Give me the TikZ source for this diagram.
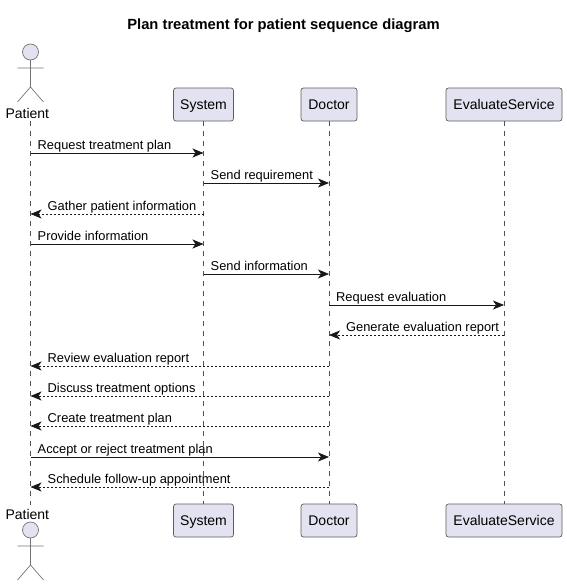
\documentclass[tikz,border=0pt]{standalone}
\usepackage{fontspec}
\setmainfont{Liberation Sans}
\usetikzlibrary{arrows.meta, positioning}
\definecolor{partfill}{HTML}{E2E2F0}
\definecolor{ink}{HTML}{181818}
\begin{document}
\begin{tikzpicture}[x=1pt, y=-1pt,
    part/.style={draw=ink!70, line width=0.7pt, fill=partfill, rounded corners=2.5pt, minimum height=33pt, inner sep=0, text height=11pt, text depth=1pt, font=\fontsize{14}{16}\selectfont},
    actorname/.style={inner sep=0, anchor=base, font=\fontsize{14}{16}\selectfont},
    stick/.style={draw=ink!60, line width=0.7pt},
    life/.style={draw=ink!75, line width=0.5pt, dash pattern=on 5pt off 5pt},
    go/.style={draw=ink, line width=0.75pt, -{Stealth[length=11pt, width=9pt, inset=3pt]}},
    back/.style={go, dash pattern=on 2pt off 2pt},
    msglabel/.style={inner sep=0, anchor=base west, text=black, font=\fontsize{12.85}{14}\selectfont}]
      \useasboundingbox (0,0) rectangle (567,586);
      \node[inner sep=0, anchor=base, font=\bfseries\fontsize{14.75}{16}\selectfont] (title) at (283.5,30) {Plan treatment for patient sequence diagram};

      \node[actorname] (patientname) at (27.3,118) {Patient};
      \node[actorname] (patientname2) at (27.3,519) {Patient};
      \coordinate (patient) at (30.5,120.5);
      \coordinate (patient2) at (30.5,505);
      \node[part, minimum width=60pt] (system) at (203.5,104.5) {System};
      \node[part, minimum width=60pt] (system2) at (203.5,520.5) {System};
      \node[part, minimum width=56pt] (doctor) at (329,104.5) {Doctor};
      \node[part, minimum width=56pt] (doctor2) at (329,520.5) {Doctor};
      \node[part, minimum width=116pt] (evaluate) at (504,104.5) {EvaluateService};
      \node[part, minimum width=116pt] (evaluate2) at (504,520.5) {EvaluateService};

      \foreach \n in {patient, system, doctor, evaluate}
      \draw[life] (\n) -- (\n2);

      % actor figures
      \foreach \h in {52, 530} {
      \draw[stick, fill=partfill] (30.5,\h) circle (8);
      \draw[stick] (30.5,\h+8) -- (30.5,\h+35) (17.5,\h+16) -- (43.5,\h+16)
        (17.5,\h+50) -- (30.5,\h+35) -- (43.5,\h+50);
      }

      % y / left / right / arrow / label offset / text
      \foreach \y/\l/\r/\k/\dx/\t [count=\i] in {
        153/patient/system/go/7/Request treatment plan,
        183/system/doctor/go/7/Send requirement,
        214/patient/system/back/17/Gather patient information,
        244/patient/system/go/7/Provide information,
        274/system/doctor/go/7/Send information,
        305/doctor/evaluate/go/7/Request evaluation,
        335/doctor/evaluate/back/17/Generate evaluation report,
        366/patient/doctor/back/17/Review evaluation report,
        396/patient/doctor/back/17/Discuss treatment options,
        426/patient/doctor/back/17/Create treatment plan,
        457/patient/doctor/go/7/Accept or reject treatment plan,
        487/patient/doctor/back/17/Schedule follow-up appointment} {
      \coordinate (a\i) at (\l |- 0,\y);
      \coordinate (b\i) at (\r |- 0,\y);
      \ifnum\pdfstrcmp{\k}{go}=0
        \draw[go] (a\i) -- (b\i);
      \else
        \draw[back] (b\i) -- (a\i);
      \fi
      \node[msglabel] (m\i) at ([xshift=\dx pt, yshift=3.8pt] a\i) {\t};
      }
    \end{tikzpicture}
\end{document}
